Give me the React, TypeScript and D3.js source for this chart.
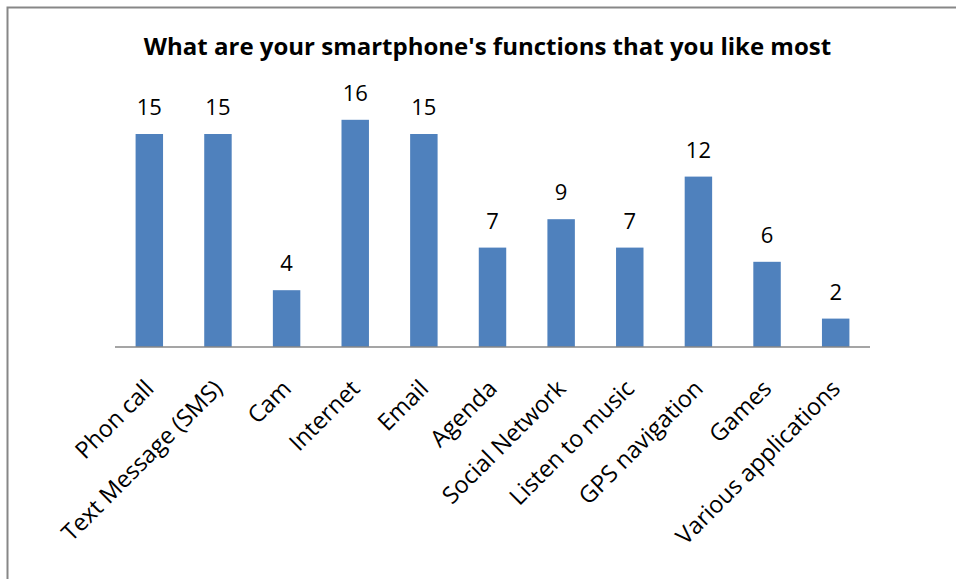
import React from "react";
import * as d3 from "d3";

const categories = [
  "Phon call",
  "Text Message (SMS)",
  "Cam",
  "Internet",
  "Email",
  "Agenda",
  "Social Network",
  "Listen to music",
  "GPS navigation",
  "Games",
  "Various applications",
];
const values = [15, 15, 4, 16, 15, 7, 9, 7, 12, 6, 2];
const title = "What are your smartphone's functions that you like most";

const W = 956;
const H = 579;
const FONT = "'Open Sans', sans-serif";

export default function App() {
  const x = d3
    .scaleBand<string>()
    .domain(categories)
    .range([115, 870])
    .paddingInner(0.6)
    .paddingOuter(0.3);
  const y = d3.scaleLinear().domain([0, 18]).range([347, 91.4]);

  return (
    <svg
      width={W}
      height={H}
      style={{ position: "absolute", left: 0, top: 0, background: "#fff" }}
    >
      <rect x={0} y={0} width={W} height={H} fill="#fff" />
      <rect
        x={7.5}
        y={7.5}
        width={W + 20}
        height={H + 20}
        fill="#fff"
        stroke="#878787"
        strokeWidth={2}
      />
      <text
        x={(140 + 835) / 2}
        y={55}
        textAnchor="middle"
        fontFamily={FONT}
        fontWeight="bold"
        fontSize={24}
        fill="#000"
      >
        {title}
      </text>
      {categories.map((c, i) => (
        <g key={c}>
          <rect
            x={x(c)}
            y={y(values[i])}
            width={x.bandwidth()}
            height={y(0) - y(values[i])}
            fill="#4F81BD"
          />
          <text
            x={(x(c) as number) + x.bandwidth() / 2}
            y={y(values[i]) - 19}
            textAnchor="middle"
            fontFamily={FONT}
            fontSize={22}
            fill="#000"
          >
            {values[i]}
          </text>
        </g>
      ))}
      <line
        x1={115}
        x2={870}
        y1={y(0)}
        y2={y(0)}
        stroke="#878787"
        strokeWidth={1.5}
      />
      {categories.map((c) => {
        const cx = (x(c) as number) + x.bandwidth() / 2 + 6;
        const cy = 390;
        return (
          <text
            key={"l" + c}
            x={cx}
            y={cy}
            transform={`rotate(-45 ${cx} ${cy})`}
            textAnchor="end"
            fontFamily={FONT}
            fontSize={23.5}
            fill="#000"
          >
            {c}
          </text>
        );
      })}
    </svg>
  );
}
